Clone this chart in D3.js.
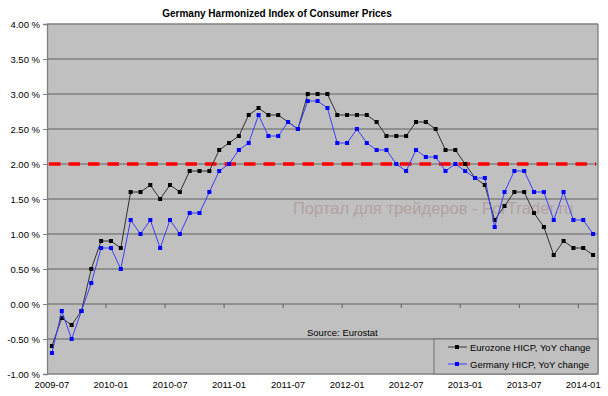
<!DOCTYPE html>
<html>
<head>
<meta charset="utf-8">
<script src="https://cdn.jsdelivr.net/npm/d3@7"></script>
<style>
  body { margin: 0; background: #fff; }
  svg { display: block; font-family: "Liberation Sans", Arial, sans-serif; }
</style>
</head>
<body>
<svg id="chart" width="608" height="396"></svg>
<script>
// monthly categories 2009-07 .. 2014-02
const months = [
  '2009-07','2009-08','2009-09','2009-10','2009-11','2009-12',
  '2010-01','2010-02','2010-03','2010-04','2010-05','2010-06','2010-07','2010-08','2010-09','2010-10','2010-11','2010-12',
  '2011-01','2011-02','2011-03','2011-04','2011-05','2011-06','2011-07','2011-08','2011-09','2011-10','2011-11','2011-12',
  '2012-01','2012-02','2012-03','2012-04','2012-05','2012-06','2012-07','2012-08','2012-09','2012-10','2012-11','2012-12',
  '2013-01','2013-02','2013-03','2013-04','2013-05','2013-06','2013-07','2013-08','2013-09','2013-10','2013-11','2013-12',
  '2014-01','2014-02'
];
const eurozone = [
  -0.6, -0.2, -0.3, -0.1, 0.5, 0.9,
  0.9, 0.8, 1.6, 1.6, 1.7, 1.5, 1.7, 1.6, 1.9, 1.9, 1.9, 2.2,
  2.3, 2.4, 2.7, 2.8, 2.7, 2.7, 2.6, 2.5, 3.0, 3.0, 3.0, 2.7,
  2.7, 2.7, 2.7, 2.6, 2.4, 2.4, 2.4, 2.6, 2.6, 2.5, 2.2, 2.2,
  2.0, 1.8, 1.7, 1.2, 1.4, 1.6, 1.6, 1.3, 1.1, 0.7, 0.9, 0.8,
  0.8, 0.7
];
const germany = [
  -0.7, -0.1, -0.5, -0.1, 0.3, 0.8,
  0.8, 0.5, 1.2, 1.0, 1.2, 0.8, 1.2, 1.0, 1.3, 1.3, 1.6, 1.9,
  2.0, 2.2, 2.3, 2.7, 2.4, 2.4, 2.6, 2.5, 2.9, 2.9, 2.8, 2.3,
  2.3, 2.5, 2.3, 2.2, 2.2, 2.0, 1.9, 2.2, 2.1, 2.1, 1.9, 2.0,
  1.9, 1.8, 1.8, 1.1, 1.6, 1.9, 1.9, 1.6, 1.6, 1.2, 1.6, 1.2,
  1.2, 1.0
];
const target = 2.0;
const yTicks = [-1, -0.5, 0, 0.5, 1, 1.5, 2, 2.5, 3, 3.5, 4];
const xLabels = ['2009-07','2010-01','2010-07','2011-01','2011-07','2012-01','2012-07','2013-01','2013-07','2014-01'];
const seriesNames = ['Eurozone HICP, YoY change', 'Germany HICP, YoY change'];

const svg = d3.select('#chart');
const plotL = 47, plotR = 598, plotT = 24, plotB = 374;

const x = d3.scaleBand().domain(months).range([plotL, plotR]).padding(0);
const y = d3.scaleLinear().domain([-1, 4]).range([plotB, plotT]);
const cx = d => x(d) + x.bandwidth() / 2;

// title
svg.append('text')
  .attr('x', 277).attr('y', 17)
  .attr('text-anchor', 'middle')
  .attr('font-size', '10px').attr('font-weight', 'bold')
  .text('Germany Harmonized Index of Consumer Prices');

// plot area
svg.append('rect')
  .attr('x', plotL).attr('y', plotT)
  .attr('width', plotR - plotL).attr('height', plotB - plotT)
  .attr('fill', '#c0c0c0');

svg.append('g').selectAll('line')
  .data(yTicks).enter().append('line')
  .attr('x1', plotL).attr('x2', plotR)
  .attr('y1', d => y(d)).attr('y2', d => y(d))
  .attr('stroke', '#808080').attr('stroke-width', 1.3);

svg.append('line')
  .attr('x1', plotR).attr('x2', plotR).attr('y1', plotT).attr('y2', plotB)
  .attr('stroke', '#808080').attr('stroke-width', 1.3);

// y axis
const yAxis = svg.append('g')
  .attr('transform', `translate(${plotL},0)`)
  .call(d3.axisLeft(y).tickValues(yTicks).tickSize(4).tickPadding(3)
    .tickFormat(d => d.toFixed(2) + ' %'));
yAxis.select('.domain').attr('stroke', '#808080').attr('stroke-width', 1.3);
yAxis.selectAll('.tick line').attr('stroke', '#808080');
yAxis.selectAll('text').attr('font-size', '9.5px').attr('fill', '#000')
  .attr('font-family', '"Liberation Sans", Arial, sans-serif');

// x tick marks on the zero line, every 6 months
svg.append('g').selectAll('line')
  .data(months.filter((m, i) => i % 6 === 0 && i > 0)).enter().append('line')
  .attr('x1', d => x(d)).attr('x2', d => x(d))
  .attr('y1', y(0)).attr('y2', y(0) + 4)
  .attr('stroke', '#606060');

// x labels at bottom
const xAxis = svg.append('g')
  .attr('transform', `translate(0,${plotB})`)
  .call(d3.axisBottom(x).tickValues(xLabels).tickSize(0).tickPadding(7));
xAxis.select('.domain').remove();
xAxis.selectAll('text').attr('font-size', '9.5px').attr('fill', '#000')
  .attr('font-family', '"Liberation Sans", Arial, sans-serif');

// 2% target line
svg.append('line')
  .attr('x1', plotL + 2).attr('x2', plotR - 2)
  .attr('y1', y(target)).attr('y2', y(target))
  .attr('stroke', '#ff0000').attr('stroke-width', 3.5)
  .attr('stroke-dasharray', '11.5,8');

// watermark
svg.append('text')
  .attr('x', 293).attr('y', 214)
  .attr('font-size', '16.5px').attr('fill', '#b3a2a2')
  .text('Портал для трейдеров - ForTrader.ru');

// series
const line = d3.line().x((d, i) => cx(months[i])).y(d => y(d));
const series = [
  { values: eurozone, line: '#303030', marker: '#000000' },
  { values: germany, line: '#3c3cff', marker: '#0000ff' }
];
series.forEach(s => {
  svg.append('path')
    .datum(s.values)
    .attr('d', line)
    .attr('fill', 'none')
    .attr('stroke', s.line).attr('stroke-width', 1);
  svg.append('g').selectAll('rect')
    .data(s.values).enter().append('rect')
    .attr('x', (d, i) => cx(months[i]) - 2)
    .attr('y', d => y(d) - 2)
    .attr('width', 4).attr('height', 4)
    .attr('fill', s.marker);
});

// source note
svg.append('text')
  .attr('x', 307).attr('y', 336)
  .attr('font-size', '9.5px')
  .text('Source: Eurostat');

// legend
const lg = svg.append('g').attr('transform', 'translate(434,339)');
lg.append('rect')
  .attr('width', plotR - 434).attr('height', plotB - 339)
  .attr('fill', '#c0c0c0').attr('stroke', '#707070').attr('stroke-width', 1);
seriesNames.forEach((name, i) => {
  const row = lg.append('g').attr('transform', `translate(0,${8 + i * 17})`);
  row.append('line').attr('x1', 14).attr('x2', 33).attr('y1', 0).attr('y2', 0)
    .attr('stroke', series[i].line);
  row.append('rect').attr('x', 21).attr('y', -2).attr('width', 4).attr('height', 4)
    .attr('fill', series[i].marker);
  row.append('text').attr('x', 36).attr('y', 3.5)
    .attr('font-size', '9.5px').text(name);
});
</script>
</body>
</html>
